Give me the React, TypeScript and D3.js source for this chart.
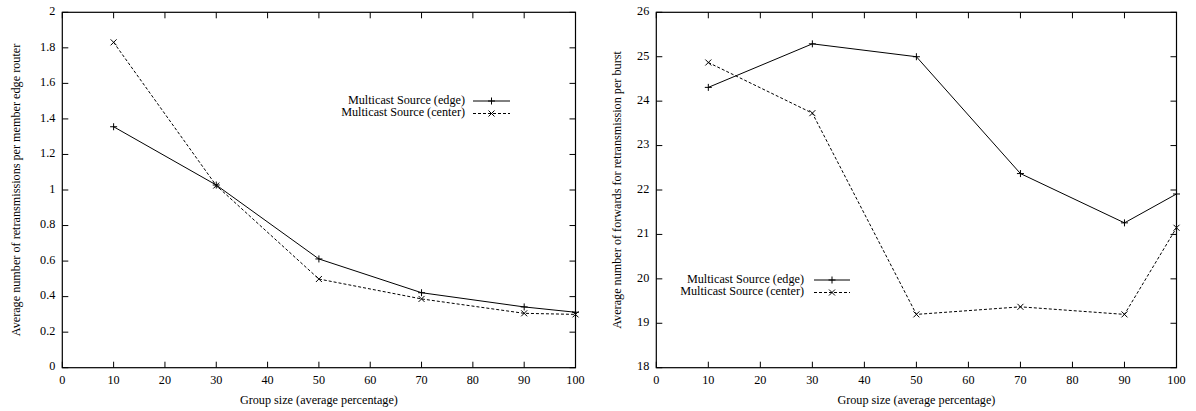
import React from "react";
import * as d3 from "d3";

const groupSizes = [10, 30, 50, 70, 90, 100];
const leftEdge = [1.356, 1.028, 0.612, 0.422, 0.342, 0.312];
const leftCenter = [1.831, 1.025, 0.499, 0.387, 0.306, 0.3];
const rightEdge = [24.31, 25.29, 25.0, 22.37, 21.26, 21.91];
const rightCenter = [24.87, 23.73, 19.2, 19.37, 19.2, 21.15];

const xTicks = [0, 10, 20, 30, 40, 50, 60, 70, 80, 90, 100];
const leftYTicks = [0, 0.2, 0.4, 0.6, 0.8, 1, 1.2, 1.4, 1.6, 1.8, 2];
const rightYTicks = [18, 19, 20, 21, 22, 23, 24, 25, 26];

const seriesNames = ["Multicast Source (edge)", "Multicast Source (center)"];
const xTitle = "Group size (average percentage)";
const leftYTitle = "Average number of retransmissions per member edge router";
const rightYTitle = "Average number of forwards for retransmission per burst";

const FONT = "'Liberation Serif', 'Times New Roman', serif";
const FS = 12.2;

type PanelProps = {
  x0: number; x1: number; y0: number; y1: number;
  yDomain: [number, number]; yTicks: number[]; fmt: (v: number) => string;
  edge: number[]; center: number[]; yTitle: string; yTitleX: number;
  legendRight: number; legendY: number; lineStart: number; lineEnd: number;
};

function Plus({ x, y }: { x: number; y: number }) {
  const s = 3.5;
  return <path d={`M${x - s},${y}H${x + s}M${x},${y - s}V${y + s}`} stroke="#000" strokeWidth={1} fill="none" />;
}
function Cross({ x, y }: { x: number; y: number }) {
  const s = 3;
  return <path d={`M${x - s},${y - s}L${x + s},${y + s}M${x - s},${y + s}L${x + s},${y - s}`} stroke="#000" strokeWidth={1} fill="none" />;
}

function Panel(p: PanelProps) {
  const xs = d3.scaleLinear().domain([0, 100]).range([p.x0, p.x1]);
  const ys = d3.scaleLinear().domain(p.yDomain).range([p.y1, p.y0]);
  const line = d3.line<number>().x((_, i) => xs(groupSizes[i])).y((d) => ys(d));
  const tl = 6;
  return (
    <g>
      {xTicks.map((t) => (
        <g key={"xt" + t}>
          <line x1={xs(t)} x2={xs(t)} y1={p.y1} y2={p.y1 - tl} stroke="#000" />
          <line x1={xs(t)} x2={xs(t)} y1={p.y0} y2={p.y0 + tl} stroke="#000" />
          <text x={xs(t)} y={p.y1 + 14} textAnchor="middle" dominantBaseline="middle" fontFamily={FONT} fontSize={FS}>{t}</text>
        </g>
      ))}
      {p.yTicks.map((t) => (
        <g key={"yt" + t}>
          <line x1={p.x0} x2={p.x0 + tl} y1={ys(t)} y2={ys(t)} stroke="#000" />
          <line x1={p.x1} x2={p.x1 - tl} y1={ys(t)} y2={ys(t)} stroke="#000" />
          <text x={p.x0 - 7} y={ys(t)} textAnchor="end" dominantBaseline="middle" fontFamily={FONT} fontSize={FS}>{p.fmt(t)}</text>
        </g>
      ))}
      <rect x={p.x0} y={p.y0} width={p.x1 - p.x0} height={p.y1 - p.y0} fill="none" stroke="#000" strokeWidth={1.2} />
      <text x={(p.x0 + p.x1) / 2} y={p.y1 + 34} textAnchor="middle" dominantBaseline="middle" fontFamily={FONT} fontSize={FS}>{xTitle}</text>
      <text transform={`translate(${p.yTitleX},${(p.y0 + p.y1) / 2}) rotate(-90)`} textAnchor="middle" dominantBaseline="middle" fontFamily={FONT} fontSize={FS}>{p.yTitle}</text>
      <path d={line(p.edge) || ""} fill="none" stroke="#000" strokeWidth={1} />
      <path d={line(p.center) || ""} fill="none" stroke="#000" strokeWidth={1} strokeDasharray="3,2" />
      {p.edge.map((v, i) => <Plus key={"pe" + i} x={xs(groupSizes[i])} y={ys(v)} />)}
      {p.center.map((v, i) => <Cross key={"pc" + i} x={xs(groupSizes[i])} y={ys(v)} />)}
      {seriesNames.map((n, i) => {
        const yy = p.legendY + i * 12.5;
        const mid = (p.lineStart + p.lineEnd) / 2;
        return (
          <g key={"lg" + i}>
            <text x={p.legendRight} y={yy} textAnchor="end" dominantBaseline="middle" fontFamily={FONT} fontSize={FS}>{n}</text>
            <line x1={p.lineStart} x2={p.lineEnd} y1={yy} y2={yy} stroke="#000" strokeDasharray={i === 1 ? "3,2" : undefined} />
            {i === 0 ? <Plus x={mid} y={yy} /> : <Cross x={mid} y={yy} />}
          </g>
        );
      })}
    </g>
  );
}

export default function App() {
  const fmtL = (v: number) => d3.format("~g")(+v.toFixed(1));
  const fmtR = (v: number) => String(v);
  return (
    <svg width={1196} height={411} style={{ position: "absolute", left: 0, top: 0, background: "#fff" }}>
      <rect width={1196} height={411} fill="#fff" />
      <Panel x0={62.3} x1={575.5} y0={12.3} y1={367.7} yDomain={[0, 2]} yTicks={leftYTicks} fmt={fmtL}
        edge={leftEdge} center={leftCenter} yTitle={leftYTitle} yTitleX={17}
        legendRight={465} legendY={101} lineStart={473} lineEnd={510} />
      <Panel x0={656.3} x1={1176.5} y0={12.3} y1={367.7} yDomain={[18, 26]} yTicks={rightYTicks} fmt={fmtR}
        edge={rightEdge} center={rightCenter} yTitle={rightYTitle} yTitleX={618}
        legendRight={804} legendY={280} lineStart={814} lineEnd={850} />
    </svg>
  );
}
